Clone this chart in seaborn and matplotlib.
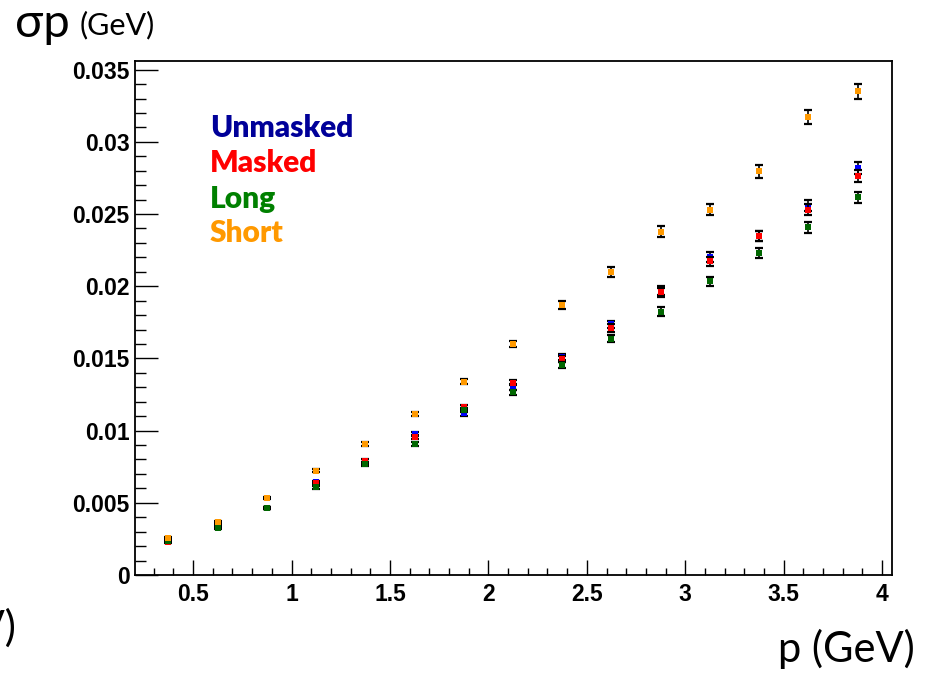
import matplotlib
matplotlib.use("Agg")
import matplotlib.pyplot as plt
import seaborn as sns
import pandas as pd
from matplotlib.ticker import MultipleLocator, FuncFormatter

# ---- data ----
p_centers = [0.375, 0.625, 0.875, 1.125, 1.375, 1.625, 1.875, 2.125,
             2.375, 2.625, 2.875, 3.125, 3.375, 3.625, 3.875]

unmasked = [0.00232, 0.00340, 0.00466, 0.00645, 0.00775, 0.00975, 0.01120, 0.01301,
            0.01510, 0.01735, 0.01970, 0.02202, 0.02350, 0.02557, 0.02819]
masked = [0.00229, 0.00349, 0.00466, 0.00635, 0.00792, 0.00959, 0.01162, 0.01333,
          0.01495, 0.01710, 0.01957, 0.02172, 0.02345, 0.02530, 0.02765]
long_ = [0.00238, 0.00326, 0.00464, 0.00608, 0.00767, 0.00908, 0.01144, 0.01266,
         0.01455, 0.01636, 0.01825, 0.02033, 0.02229, 0.02407, 0.02615]
short = [0.00259, 0.00370, 0.00531, 0.00721, 0.00908, 0.01116, 0.01340, 0.01600,
         0.01871, 0.02098, 0.02379, 0.02530, 0.02795, 0.03170, 0.03350]

unmasked_err = [0.00004, 0.00005, 0.00007, 0.00009, 0.00011, 0.00014, 0.00016, 0.00019,
                0.00022, 0.00026, 0.00030, 0.00033, 0.00035, 0.00038, 0.00042]
masked_err = [0.00004, 0.00005, 0.00007, 0.00009, 0.00011, 0.00014, 0.00016, 0.00019,
              0.00022, 0.00026, 0.00030, 0.00033, 0.00035, 0.00038, 0.00042]
long_err = [0.00004, 0.00005, 0.00007, 0.00009, 0.00011, 0.00013, 0.00015, 0.00018,
            0.00021, 0.00025, 0.00028, 0.00031, 0.00033, 0.00036, 0.00040]
short_err = [0.00004, 0.00006, 0.00008, 0.00010, 0.00012, 0.00015, 0.00018, 0.00022,
             0.00028, 0.00032, 0.00036, 0.00040, 0.00042, 0.00048, 0.00052]

series_names = ["Unmasked", "Masked", "Long", "Short"]
marker_colors = ["#0000FF", "#FF0000", "#006600", "#FF9900"]
label_colors = ["#000099", "#FF0000", "#008000", "#FF9900"]

x_ticks = [0.5, 1, 1.5, 2, 2.5, 3, 3.5, 4]
y_ticks = [0, 0.005, 0.01, 0.015, 0.02, 0.025, 0.03, 0.035]

# ---- figure ----
sns.set_theme(style="white")
plt.rcParams["font.family"] = ["Liberation Sans", "DejaVu Sans"]
plt.rcParams["xtick.bottom"] = True
plt.rcParams["ytick.left"] = True

W, H = 932, 674
fig = plt.figure(figsize=(W / 100, H / 100), dpi=100)
ax = fig.add_axes([135 / W, 1 - 575 / H, (892 - 135) / W, (575 - 61) / H])

values = [unmasked, masked, long_, short]
errors = [unmasked_err, masked_err, long_err, short_err]

for i, (name, vals, errs, col) in enumerate(zip(series_names, values, errors, marker_colors)):
    df = pd.DataFrame({"p": p_centers, "sigma": vals, "err": errs})
    ax.errorbar(df["p"], df["sigma"], yerr=df["err"], fmt="none", ecolor="black",
                elinewidth=1.2, capsize=3.2, capthick=1.6, zorder=2 + 2 * i)
    sns.scatterplot(data=df, x="p", y="sigma", marker="s", s=25, color=col,
                    linewidth=0, ax=ax, zorder=3 + 2 * i, legend=False)

ax.set_xlim(0.205, 4.05)
ax.set_ylim(0, 0.0356)
ax.set_xlabel("")
ax.set_ylabel("")

ax.set_xticks(x_ticks)
ax.set_yticks(y_ticks)
ax.xaxis.set_minor_locator(MultipleLocator(0.1))
ax.yaxis.set_minor_locator(MultipleLocator(0.001))
fmt = FuncFormatter(lambda v, pos: "%g" % round(v, 6))
ax.xaxis.set_major_formatter(fmt)
ax.yaxis.set_major_formatter(fmt)

ax.tick_params(axis="both", which="both", direction="in", colors="black",
               bottom=True, left=True, top=False, right=False, width=1.0)
ax.tick_params(axis="x", which="major", length=10.8, pad=6, labelsize=16.5)
ax.tick_params(axis="x", which="minor", length=5.0)
ax.tick_params(axis="y", which="major", length=16.5, pad=4, labelsize=16.5)
ax.tick_params(axis="y", which="minor", length=8.0)
for lab in ax.get_xticklabels() + ax.get_yticklabels():
    lab.set_fontweight("bold")

for sp in ax.spines.values():
    sp.set_color("black")
    sp.set_linewidth(1.3)
    sp.set_visible(True)
ax.grid(False)

# legend-like coloured labels
baselines = [137, 172.5, 208, 242]
for name, col, b in zip(series_names, label_colors, baselines):
    fig.text(210 / W, 1 - b / H, name, color=col, fontsize=21.5, fontweight="heavy",
             family=["Lato", "DejaVu Sans"], va="baseline", ha="left")

# axis titles (slide text)
fig.text(15 / W, 1 - 37 / H, "σp", fontsize=34, family=["Lato", "DejaVu Sans"],
         va="baseline", ha="left", color="black")
fig.text(80 / W, 1 - 34 / H, "(GeV)", fontsize=22, family=["Lato", "DejaVu Sans"],
         va="baseline", ha="left", color="black")
fig.text(915 / W, 1 - 662 / H, "p (GeV)", fontsize=30, family=["Lato", "DejaVu Sans"],
         va="baseline", ha="right", color="black")
# cut-off fragment at the bottom-left edge (as in the reference)
fig.text(16 / W, 1 - 641 / H, "(GeV)", fontsize=30, family=["Lato", "DejaVu Sans"],
         va="baseline", ha="right", color="black")

fig.savefig("out.png", dpi=100)
